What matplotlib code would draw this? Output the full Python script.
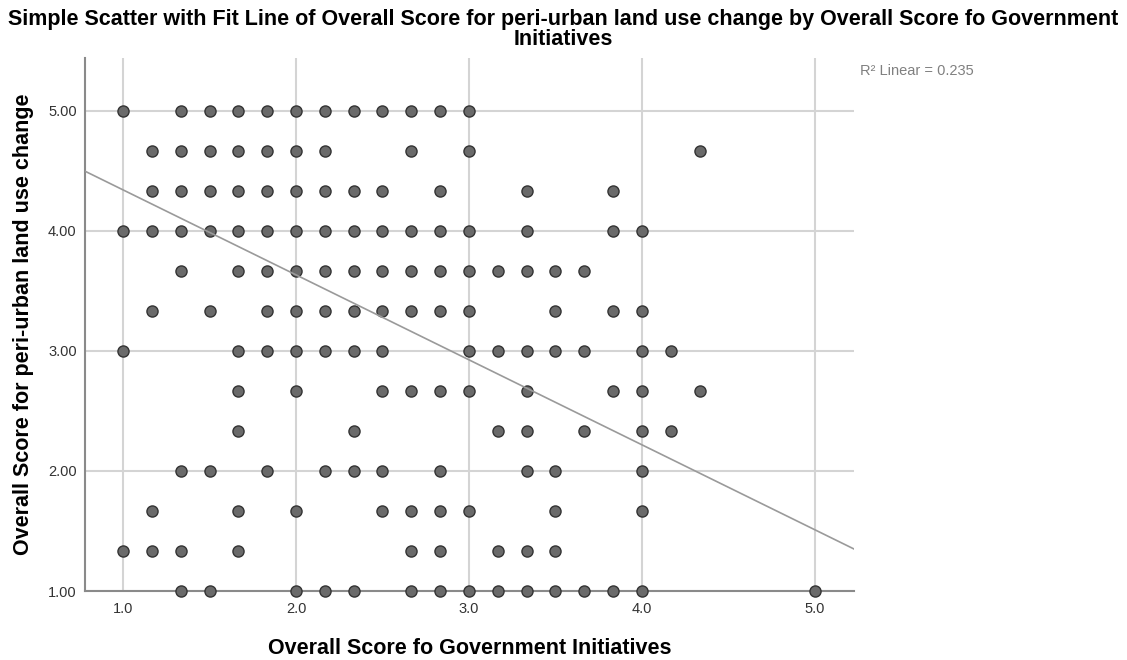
import numpy as np
import matplotlib
matplotlib.use("Agg")
import matplotlib.pyplot as plt

plt.rcParams['font.family'] = ['Liberation Sans', 'DejaVu Sans']

# x positions are in steps of 1/6, y positions in steps of 1/3
# each row: y value -> list of x values (in sixths above 1.0)
rows = {
    5.0:   [0, 2, 3, 4, 5, 6, 7, 8, 9, 10, 11, 12],
    14/3:  [1, 2, 3, 4, 5, 6, 7, 10, 12, 20],
    13/3:  [1, 2, 3, 4, 5, 6, 7, 8, 9, 11, 14, 17],
    4.0:   [0, 1, 2, 3, 4, 5, 6, 7, 8, 9, 10, 11, 12, 14, 17, 18],
    11/3:  [2, 4, 5, 6, 7, 8, 9, 10, 11, 12, 13, 14, 15, 16],
    10/3:  [1, 3, 5, 6, 7, 8, 9, 10, 11, 12, 15, 17, 18],
    3.0:   [0, 4, 5, 6, 7, 8, 9, 12, 13, 14, 15, 16, 18, 19],
    8/3:   [4, 6, 9, 10, 11, 12, 14, 17, 18, 20],
    7/3:   [4, 8, 13, 14, 16, 18, 19],
    2.0:   [2, 3, 5, 7, 8, 9, 11, 14, 15, 18],
    5/3:   [1, 4, 6, 9, 10, 11, 12, 15, 18],
    4/3:   [0, 1, 2, 4, 10, 11, 13, 14, 15],
    1.0:   [2, 3, 6, 7, 8, 10, 11, 12, 13, 14, 15, 16, 17, 18, 24],
}

gov_score = []
land_score = []
for yv, xs in rows.items():
    for k in xs:
        gov_score.append(1 + k / 6)
        land_score.append(yv)
gov_score = np.array(gov_score)
land_score = np.array(land_score)

# fit line
fit_intercept = 5.05
fit_slope = -0.708
r2_text = "R\u00b2 Linear = 0.235"

x_ticks = [1.0, 2.0, 3.0, 4.0, 5.0]
y_ticks = [1.0, 2.0, 3.0, 4.0, 5.0]

fig = plt.figure(figsize=(11.27, 6.6), dpi=100)
ax = fig.add_axes([0.0754, 0.1045, 0.6824, 0.8075])

ax.set_xlim(0.78, 5.226)
ax.set_ylim(1.0, 5.44)

ax.set_xticks(x_ticks)
ax.set_yticks(y_ticks)
ax.set_xticklabels([f"{v:.1f}" for v in x_ticks])
ax.set_yticklabels([f"{v:.2f}" for v in y_ticks])
ax.tick_params(length=0, labelsize=10.5, colors='#333333')
ax.tick_params(axis='y', pad=6)
ax.tick_params(axis='x', pad=8)
ax.grid(True, color='#d4d4d4', linewidth=1.5)
ax.set_axisbelow(True)

for side in ['top', 'right']:
    ax.spines[side].set_visible(False)
for side in ['left', 'bottom']:
    ax.spines[side].set_color('#8a8a8a')
    ax.spines[side].set_linewidth(1.5)

ax.scatter(gov_score, land_score, s=64, facecolor='#6a6a6a',
           edgecolor='#333333', linewidth=1.0, zorder=3, clip_on=False)

xl = np.array(ax.get_xlim())
ax.plot(xl, fit_intercept + fit_slope * xl, color='#9a9a9a', linewidth=1.2, zorder=4)

ax.set_xlabel("Overall Score fo Government Initiatives", fontsize=15.5,
              fontweight='bold', labelpad=16)
ax.set_ylabel("Overall Score for peri-urban land use change", fontsize=15.5,
              fontweight='bold', labelpad=10)

fig.text(0.5, 0.987, "Simple Scatter with Fit Line of Overall Score for peri-urban land use change by Overall Score fo Government\nInitiatives",
         ha='center', va='top', fontsize=15.5, fontweight='bold', linespacing=0.98)
fig.text(0.763, 0.892, r2_text, fontsize=10.5, color='#808080', ha='left', va='center')

fig.savefig("out.png", dpi=100)
